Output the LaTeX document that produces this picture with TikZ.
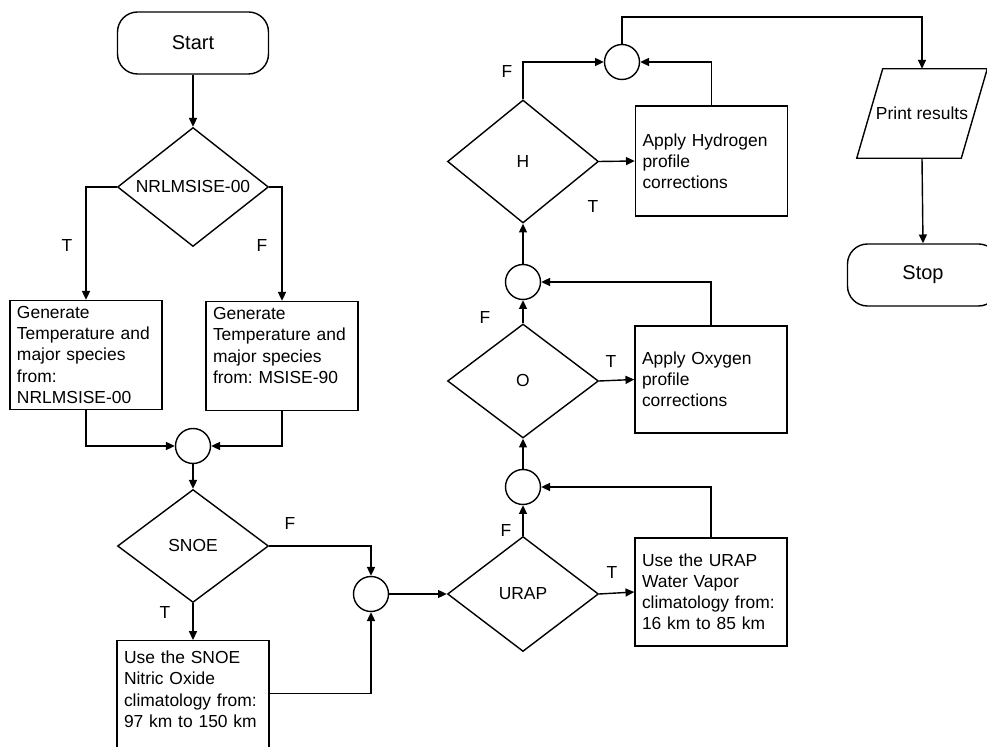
\documentclass[tikz,border=0pt]{standalone}
\usepackage{fontspec}
\setmainfont{Liberation Sans}
\usepackage{tikz}
\usetikzlibrary{positioning,arrows.meta,shapes.geometric}

\begin{document}
\frenchspacing
\begin{tikzpicture}[
    termnode/.style={draw, line width=1pt, rounded corners=0.5cm, minimum width=3.775cm, minimum height=1.55cm, font=\fontsize{14.2}{17}\selectfont},
    decnode/.style={draw, line width=1pt, diamond, aspect=1.3, inner sep=0pt, minimum width=3.775cm, minimum height=2.85cm, font=\fontsize{12.4}{15}\selectfont},
    procnode/.style={draw, line width=1pt, text width=3.45cm, align=left, inner xsep=0.175cm, inner ysep=0.1cm, font=\fontsize{12.4}{15}\selectfont},
    joinnode/.style={draw, line width=1pt, circle, minimum size=0.875cm, inner sep=0pt},
    ionode/.style={inner sep=0pt, minimum width=2.6cm, minimum height=2.225cm, font=\fontsize{12.4}{15}\selectfont},
    tfnode/.style={font=\fontsize{12.4}{15}\selectfont},
    arrow/.style={-{Triangle[length=2.2mm, width=2mm]}, line width=1pt}
]
\useasboundingbox (0,0) rectangle (24.675,18.675);

% Left column: model choice
\node[termnode] (start) at (4.825,17.6) {Start};
\node[decnode, minimum height=2.975cm] (nrl) at (4.825,14.0) {NRLMSISE-00};
\node[procnode, minimum height=2.725cm] (gen00) at (2.15,9.8) {Generate\\Temperature and\\major species\\from:\\NRLMSISE-00};
\node[procnode, minimum height=2.725cm] (gen90) at (7.05,9.775) {Generate\\Temperature and\\major species\\from: MSISE-90\\ \mbox{}};
\node[joinnode] (j1) at (4.825,7.525) {};
\node[decnode, minimum height=2.825cm] (snoe) at (4.825,5.025) {SNOE};
\node[procnode, anchor=north, minimum height=2.95cm] (snoebox) at (4.825,2.675) {Use the SNOE\\Nitric Oxide\\climatology from:\\97 km to 150 km\\ \mbox{}};
\node[joinnode] (j2) at (9.275,3.825) {};

% Middle column: profile corrections
\node[decnode, minimum height=2.875cm] (urap) at (13.075,3.825) {URAP};
\node[procnode, minimum height=2.7cm] (urapbox) at (17.775,3.875) {Use the URAP\\Water Vapor\\climatology from:\\16 km to 85 km};
\node[joinnode] (j3) at (13.075,6.5) {};
\node[decnode] (oxy) at (13.075,9.15) {O};
\node[procnode, minimum height=2.675cm] (oxybox) at (17.775,9.1875) {Apply Oxygen\\profile\\corrections};
\node[joinnode] (j4) at (13.075,11.625) {};
\node[decnode, minimum height=3.075cm] (hyd) at (13.075,14.6375) {H};
\node[procnode, minimum height=2.75cm] (hydbox) at (17.7875,14.65) {Apply Hydrogen\\profile\\corrections};
\node[joinnode] (j5) at (15.55,17.125) {};

% Right column: output
\node[ionode] (print) at (23.05,15.8375) {Print results};
\draw[line width=1pt] ([xshift=-0.325cm]print.south west) -- ([xshift=0.325cm]print.north west)
    -- ([xshift=0.325cm]print.north east) -- ([xshift=-0.325cm]print.south east) -- cycle;
\node[termnode] (stop) at (23.075,11.8) {Stop};
\coordinate (ret) at (20,18.25);

% T / F labels
\node[tfnode] (nrlT) at (1.675,12.525) {T};
\node[tfnode] (nrlF) at (6.55,12.525) {F};
\node[tfnode] (snoeF) at (7.25,5.575) {F};
\node[tfnode] (snoeT) at (4.125,3.35) {T};
\node[tfnode] (urapT) at (15.3,4.35) {T};
\node[tfnode] (urapF) at (12.65,5.4) {F};
\node[tfnode] (oxyT) at (15.275,9.625) {T};
\node[tfnode] (oxyF) at (12.125,10.725) {F};
\node[tfnode] (hydT) at (14.825,13.5) {T};
\node[tfnode] (hydF) at (12.675,16.875) {F};

% Connectors
\draw[arrow] (start.south) -- (nrl.north);
\draw[arrow] (nrl.west) -| (gen00.north);
\draw[arrow] (nrl.east) -| (gen90.north);
\draw[arrow] (gen00.south) |- (j1.west);
\draw[arrow] (gen90.south) |- (j1.east);
\draw[arrow] (j1.south) -- (snoe.north);
\draw[arrow] (snoe.east) -| (j2.north);
\draw[arrow] (snoe.south) -- (snoebox.north);
\draw[arrow] ([yshift=0.15cm]snoebox.east) -| (j2.south);
\draw[arrow] (j2.east) -- (urap.west);
\draw[arrow] (urap.east) -- (urapbox.west);
\draw[arrow] (urap.north) -- (j3.south);
\draw[arrow] (urapbox.north) |- (j3.east);
\draw[arrow] (j3.north) -- (oxy.south);
\draw[arrow] (oxy.east) -- (oxybox.west);
\draw[arrow] (oxy.north) -- (j4.south);
\draw[arrow] (oxybox.north) |- (j4.east);
\draw[arrow] (j4.north) -- (hyd.south);
\draw[arrow] (hyd.east) -- (hydbox.west);
\draw[arrow] (hyd.north) |- (j5.west);
\draw[arrow] (hydbox.north) |- (j5.east);
\draw[arrow] (j5.north) |- (ret) -| (print.north);
\draw[arrow] (print.south) -- (stop.north);

\end{tikzpicture}
\end{document}
